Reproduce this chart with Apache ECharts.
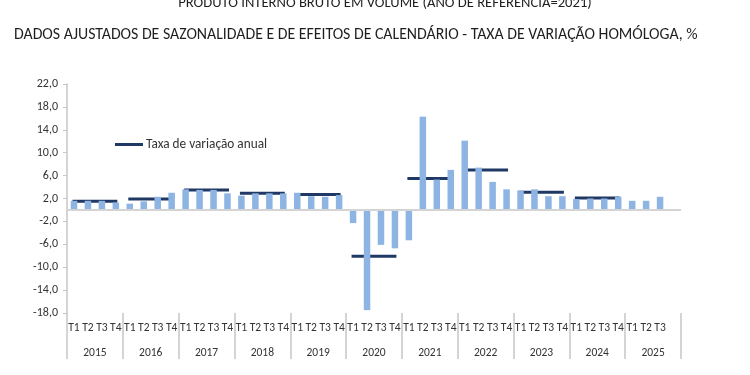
<!DOCTYPE html>
<html>
<head>
<meta charset="utf-8">
<script src="https://cdn.jsdelivr.net/npm/echarts@6/dist/echarts.min.js"></script>
<style>html,body{margin:0;padding:0;background:#fff;}#c{width:750px;height:375px;}</style>
</head>
<body>
<div id="c"></div>
<script>
const titleTop = 'PRODUTO INTERNO BRUTO EM VOLUME (ANO DE REFERÊNCIA=2021)';
const titleMain = 'DADOS AJUSTADOS DE SAZONALIDADE E DE EFEITOS DE CALENDÁRIO - TAXA DE VARIAÇÃO HOMÓLOGA, %';
const years = ['2015','2016','2017','2018','2019','2020','2021','2022','2023','2024','2025'];
const quarterLabels = [
  'T1','T2','T3','T4','T1','T2','T3','T4','T1','T2','T3','T4','T1','T2','T3','T4',
  'T1','T2','T3','T4','T1','T2','T3','T4','T1','T2','T3','T4','T1','T2','T3','T4',
  'T1','T2','T3','T4','T1','T2','T3','T4','T1','T2','T3',''
];
const quarterlyRate = [
  1.6, 1.6, 1.6, 1.3,
  1.1, 1.5, 2.3, 3.0,
  3.6, 3.5, 3.5, 2.9,
  2.5, 2.9, 2.9, 2.9,
  3.0, 2.4, 2.3, 2.6,
  -2.3, -17.5, -6.1, -6.7,
  -5.3, 16.3, 5.3, 7.0,
  12.1, 7.4, 4.9, 3.6,
  3.4, 3.6, 2.4, 2.4,
  1.9, 2.0, 2.0, 2.3,
  1.6, 1.6, 2.3, null
];
const annualRate = [1.5, 1.9, 3.5, 2.9, 2.7, -8.1, 5.5, 7.0, 3.1, 2.1];
const yTicks = [-18, -14, -10, -6, -2, 2, 6, 10, 14, 18, 22];
const legendName = 'Taxa de variação anual';

const font = 'Carlito, Lato, "Liberation Sans", sans-serif';
const chart = echarts.init(document.getElementById('c'), null, {renderer: 'canvas'});
chart.setOption({
  animation: false,
  backgroundColor: '#ffffff',
  title: [
    {text: titleTop, left: 380, top: -9, textAlign: 'center',
     textStyle: {fontFamily: font, fontSize: 14.6, fontWeight: 'normal', color: '#1e1e1e'}},
    {text: titleMain, left: 9, top: 22,
     textStyle: {fontFamily: font, fontSize: 15.8, fontWeight: 'normal', color: '#1e1e1e'}}
  ],
  legend: {
    left: 110, top: 133, itemWidth: 28, itemHeight: 3, icon: 'rect', itemGap: 0,
    data: [legendName],
    textStyle: {fontFamily: font, fontSize: 13.3, color: '#333333', padding: [0,0,0,-2]}
  },
  grid: {left: 67, right: 69, top: 84, bottom: 62, containLabel: false},
  xAxis: [
    {type: 'category', data: quarterLabels, position: 'bottom',
     axisLine: {show: false, onZero: false}, axisTick: {show: false},
     axisLabel: {interval: 0, margin: 9, fontFamily: font, fontSize: 11.5, color: '#333333'}},
    {type: 'category', data: years, position: 'bottom',
     axisLine: {show: false, onZero: false},
     axisTick: {show: true, interval: 0, length: 46, lineStyle: {color: '#c6c6c6', width: 1.5}},
     axisLabel: {interval: 0, margin: 34, fontFamily: font, fontSize: 11.5, color: '#333333'}}
  ],
  yAxis: {
    type: 'value', min: -18, max: 22,
    axisLine: {show: true, lineStyle: {color: '#c6c6c6', width: 1.5}},
    axisTick: {show: true, length: 4, customValues: yTicks, lineStyle: {color: '#c6c6c6'}},
    splitLine: {show: false},
    axisLabel: {customValues: yTicks, margin: 9, fontFamily: font, fontSize: 12, color: '#333333',
      formatter: v => v.toFixed(1).replace('.', ',')}
  },
  series: [
    {type: 'bar', xAxisIndex: 0, data: quarterlyRate, barWidth: 6.5,
     itemStyle: {color: '#8DB4E2'}, silent: true,
     markLine: {silent: true, symbol: 'none', label: {show: false},
       lineStyle: {color: '#d4d4d4', type: 'solid', width: 2},
       data: [{yAxis: 0}]}},
    {type: 'custom', name: legendName, xAxisIndex: 0, color: '#203864',
     itemStyle: {color: '#203864'},
     data: annualRate.map((v, i) => [i, v]),
     encode: {x: 0, y: 1},
     renderItem: function (params, api) {
       const yr = api.value(0), v = api.value(1);
       const p1 = api.coord([yr * 4, v]);
       const p2 = api.coord([yr * 4 + 3, v]);
       return {type: 'line', shape: {x1: p1[0] - 1.5, y1: p1[1], x2: p2[0] + 1.5, y2: p2[1]},
         style: {stroke: '#203864', lineWidth: 3}};
     }}
  ]
});
</script>
</body>
</html>
